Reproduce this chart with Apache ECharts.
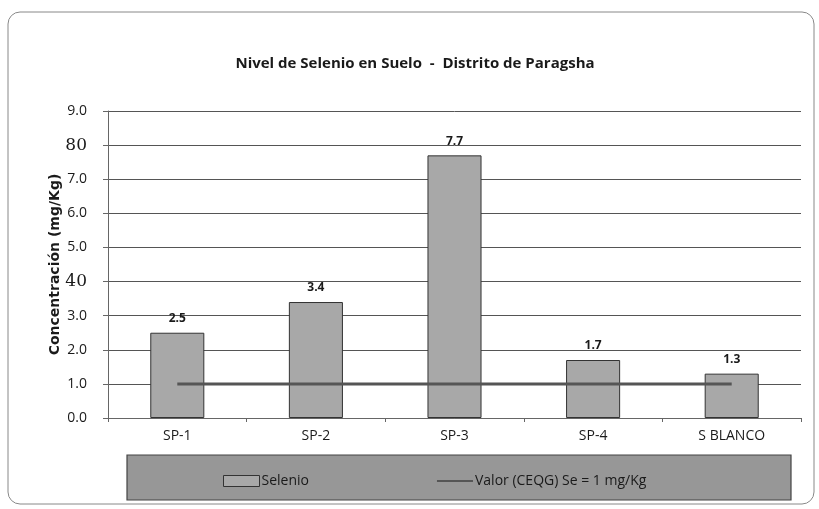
<!DOCTYPE html>
<html><head><meta charset="utf-8">
<script src="https://cdn.jsdelivr.net/npm/echarts@6/dist/echarts.min.js"></script>
<style>html,body{margin:0;padding:0;background:#fff}#c{width:819px;height:509px}</style>
</head><body><div id="c"></div>
<script>
var categories = ["SP-1", "SP-2", "SP-3", "SP-4", "S BLANCO"];
var selenio = [2.5, 3.4, 7.7, 1.7, 1.3];
var limite = [1, 1, 1, 1, 1];
var tickLabels = ["0.0", "1.0", "2.0", "3.0", "40", "5.0", "6.0", "7.0", "80", "9.0"];
var serifTicks = ["40", "80"];

var chart = echarts.init(document.getElementById('c'));
var F = '"Open Sans", Lato, sans-serif';
chart.setOption({
  animation: false,
  graphic: [
    {type: 'rect', shape: {x: 8, y: 12, width: 806, height: 492, r: 12}, style: {fill: 'none', stroke: '#888', lineWidth: 1}},
    {type: 'rect', shape: {x: 127, y: 455, width: 664, height: 45}, style: {fill: '#979797', stroke: '#444', lineWidth: 1.2}, z: 0}
  ],
  title: {
    text: 'Nivel de Selenio en Suelo  -  Distrito de Paragsha',
    left: 410, top: 51, textAlign: 'center',
    textStyle: {fontFamily: F, fontSize: 15, fontWeight: 'bold', color: '#1a1a1a'}
  },
  legend: {
    top: 469, left: 218, itemGap: 128, itemWidth: 36, itemHeight: 11,
    textStyle: {fontFamily: F, fontSize: 14, color: '#1a1a1a', padding: [0, 0, 0, -3]},
    data: [
      {name: 'Selenio', icon: 'rect', itemStyle: {color: '#a8a8a8', borderColor: '#333', borderWidth: 1}},
      {name: 'Valor (CEQG) Se = 1 mg/Kg', icon: 'path://M0,4.5 L40,4.5 L40,6.5 L0,6.5 Z', itemStyle: {color: '#555'}}
    ]
  },
  grid: {left: 108, right: 18, top: 111, bottom: 91},
  xAxis: {
    type: 'category', data: categories, boundaryGap: true,
    axisLine: {lineStyle: {color: '#666', width: 1}},
    axisTick: {show: true, length: 4, lineStyle: {color: '#666'}},
    axisLabel: {fontFamily: F, fontSize: 14, color: '#1a1a1a', margin: 11}
  },
  yAxis: {
    type: 'value', min: 0, max: 9, interval: 1,
    name: 'Concentración (mg/Kg)', nameLocation: 'middle', nameGap: 46, nameRotate: 90,
    nameMoveOverlap: false,
    nameTextStyle: {fontFamily: '"DejaVu Sans", sans-serif', fontSize: 14, fontWeight: 'bold', color: '#1a1a1a'},
    axisLine: {show: true, lineStyle: {color: '#666'}},
    axisTick: {show: true, length: 5, lineStyle: {color: '#666'}},
    splitLine: {lineStyle: {color: '#555', width: 1}},
    axisLabel: {
      fontFamily: F, fontSize: 14, color: '#1a1a1a', margin: 21,
      formatter: function (v) {
        var t = tickLabels[Math.round(v)];
        return serifTicks.indexOf(t) >= 0 ? '{s|' + t + '}' : t;
      },
      rich: {s: {fontFamily: '"DejaVu Serif", serif', fontSize: 17, color: '#1a1a1a'}}
    }
  },
  series: [
    {
      name: 'Selenio', type: 'bar', data: selenio, barWidth: '39%',
      itemStyle: {color: '#a8a8a8', borderColor: '#333', borderWidth: 1},
      label: {show: true, position: 'top', distance: 8, fontFamily: F, fontSize: 12, fontWeight: 'bold', color: '#1a1a1a',
        formatter: function (p) { return p.value.toFixed(1); }}
    },
    {
      name: 'Valor (CEQG) Se = 1 mg/Kg', type: 'line', data: limite, symbol: 'none',
      lineStyle: {color: '#555', width: 3}, z: 5
    }
  ]
});
</script></body></html>
